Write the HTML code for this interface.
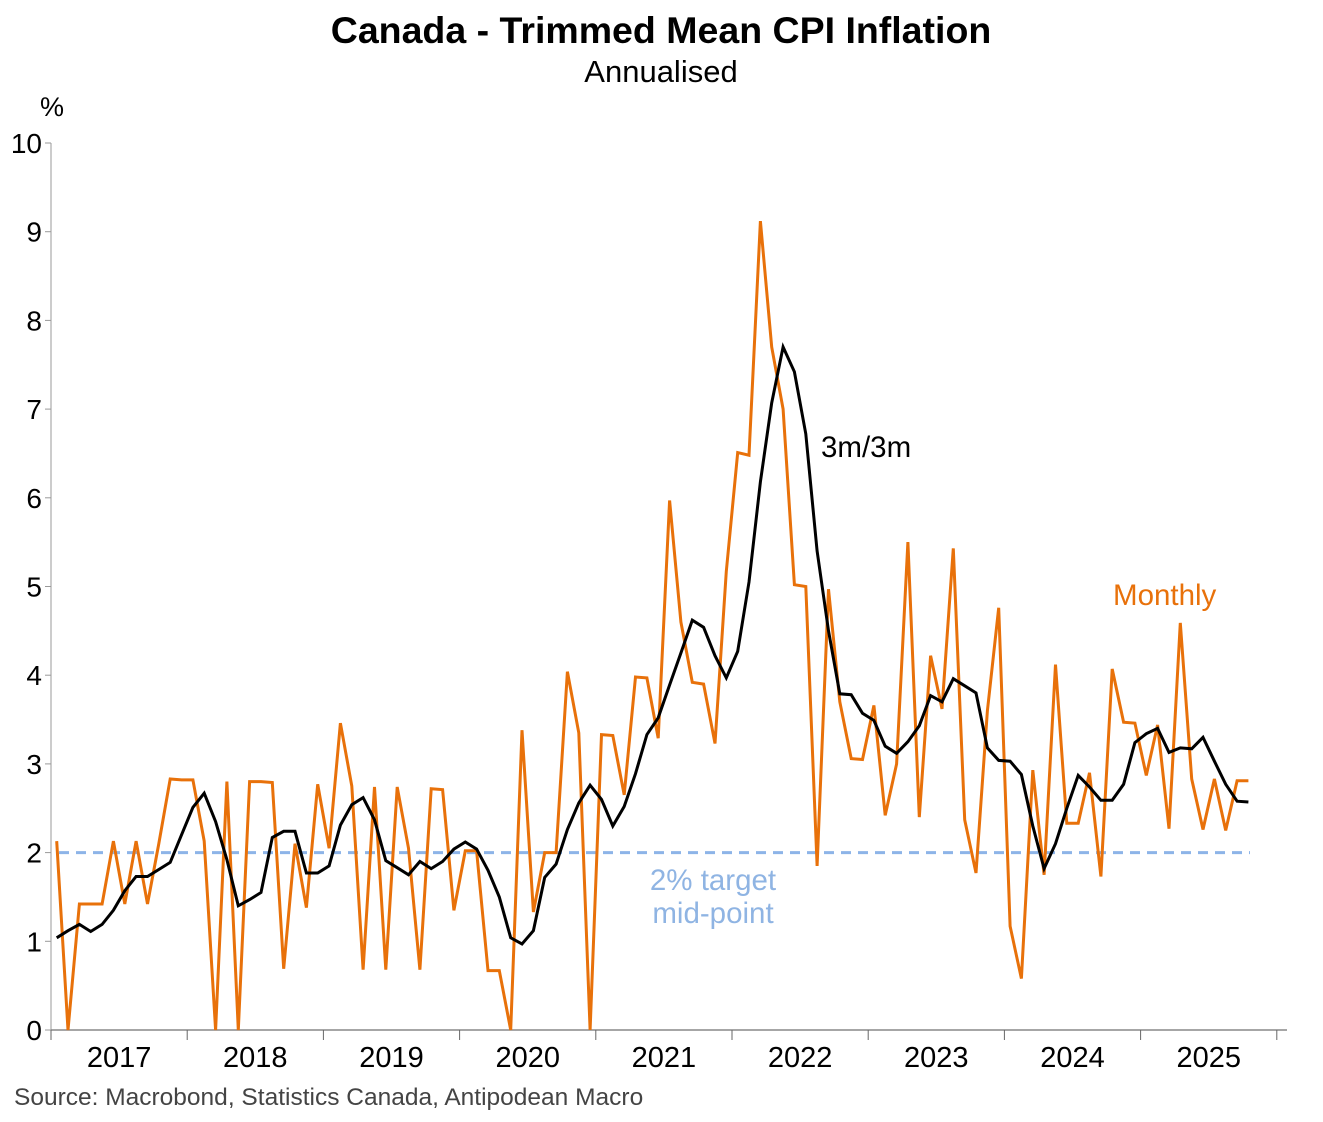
<!DOCTYPE html>
<html><head><meta charset="utf-8"><style>
body{margin:0;background:#fff}
svg{display:block;font-family:"Liberation Sans",Arial,sans-serif}
</style></head><body>
<svg id="chart" width="1323" height="1122" viewBox="0 0 1323 1122">
<text x="661" y="43" text-anchor="middle" font-size="37.5" font-weight="bold">Canada - Trimmed Mean CPI Inflation</text>
<text x="661" y="82" text-anchor="middle" font-size="31">Annualised</text>
<text x="52" y="116" text-anchor="middle" font-size="27">%</text>
<g id="axes"></g>
<g id="series"></g>
<text x="821" y="457" font-size="29.5">3m/3m</text>
<text x="1113" y="605" font-size="29.5" fill="#E8710A">Monthly</text>
<text x="713" y="890" text-anchor="middle" font-size="29.5" fill="#8FB4E3">2% target</text>
<text x="713" y="923" text-anchor="middle" font-size="29.5" fill="#8FB4E3">mid-point</text>
<text x="14" y="1105" font-size="24.5" fill="#444">Source: Macrobond, Statistics Canada, Antipodean Macro</text>
</svg>
<script>
const years=["2017","2018","2019","2020","2021","2022","2023","2024","2025"];
const yTicks=[0,1,2,3,4,5,6,7,8,9,10];
const target=2;
const monthly=[2.13,0,1.42,1.42,1.42,2.13,1.42,2.13,1.42,2.1,2.83,2.82,2.82,2.13,0,2.8,0,2.8,2.8,2.79,0.69,2.1,1.38,2.77,2.05,3.46,2.75,0.68,2.74,0.68,2.74,2.05,0.68,2.72,2.71,1.35,2.02,2.02,0.67,0.67,0,3.38,1.33,2.0,2.0,4.04,3.35,0,3.33,3.32,2.65,3.98,3.97,3.29,5.97,4.6,3.92,3.9,3.23,5.17,6.51,6.48,9.12,7.7,7.0,5.02,5.0,1.85,4.97,3.7,3.06,3.05,3.66,2.42,3.0,5.5,2.4,4.22,3.62,5.43,2.37,1.77,3.6,4.76,1.17,0.58,2.93,1.75,4.12,2.33,2.33,2.9,1.73,4.07,3.47,3.46,2.87,3.44,2.27,4.59,2.83,2.26,2.83,2.25,2.81,2.81];
const threeM=[1.04,1.12,1.19,1.11,1.19,1.35,1.57,1.73,1.73,1.81,1.89,2.2,2.51,2.67,2.35,1.92,1.4,1.47,1.55,2.17,2.24,2.24,1.77,1.77,1.85,2.31,2.54,2.62,2.37,1.91,1.83,1.75,1.9,1.82,1.9,2.04,2.12,2.04,1.8,1.5,1.04,0.97,1.12,1.72,1.87,2.26,2.56,2.76,2.6,2.3,2.52,2.89,3.33,3.52,3.89,4.25,4.62,4.54,4.22,3.97,4.27,5.05,6.18,7.07,7.7,7.42,6.72,5.4,4.5,3.79,3.78,3.57,3.49,3.2,3.12,3.25,3.43,3.77,3.7,3.96,3.88,3.8,3.18,3.04,3.03,2.88,2.3,1.82,2.1,2.5,2.87,2.74,2.59,2.59,2.77,3.24,3.34,3.4,3.13,3.18,3.17,3.3,3.03,2.77,2.58,2.57];

const NS="http://www.w3.org/2000/svg";
const X0=51, MW=136.2/12, Y0=1030, YU=88.7, XR=1287;
const x=i=>X0+(i+0.5)*MW;
const y=v=>Y0-v*YU;
function mk(tag,attrs,parent){const e=document.createElementNS(NS,tag);for(const k in attrs)e.setAttribute(k,attrs[k]);parent.appendChild(e);return e;}
const ax=document.getElementById('axes'), se=document.getElementById('series');

const yl=mk('line',{x1:X0,y1:y(10),x2:X0,y2:Y0,stroke:'#bbb','stroke-width':1.5},ax);


const xl=mk('line',{x1:X0,y1:Y0,x2:XR,y2:Y0,stroke:'#888','stroke-width':1.5},ax);


yTicks.forEach(v=>{
  const t=mk('line',{x1:X0-6,y1:y(v),x2:X0,y2:y(v),stroke:'#999','stroke-width':1},ax);
  
  
  const l=mk('text',{x:42,y:y(v)+10,'text-anchor':'end','font-size':28},ax);
  l.textContent=v;
  
  
});
for(let k=0;k<=years.length;k++){
  const xx=X0+k*136.2;
  const t=mk('line',{x1:xx,y1:Y0,x2:xx,y2:Y0+10,stroke:'#666','stroke-width':1},ax);
  
  
}
years.forEach((yr,k)=>{
  const l=mk('text',{x:X0+(k+0.5)*136.2,y:1067,'text-anchor':'middle','font-size':29},ax);
  l.textContent=yr;
  
  
});
const tl=mk('line',{x1:X0+8,y1:y(target),x2:1250,y2:y(target),stroke:'#8DB4E8','stroke-width':3,'stroke-dasharray':'10,7'},se);


const pts=a=>a.map((v,i)=>x(i).toFixed(1)+','+y(v).toFixed(1)).join(' ');
const m=mk('polyline',{points:pts(monthly),fill:'none',stroke:'#E8710A','stroke-width':3},se);


const b=mk('polyline',{points:pts(threeM),fill:'none',stroke:'#000','stroke-width':3},se);


</script>
</body></html>
